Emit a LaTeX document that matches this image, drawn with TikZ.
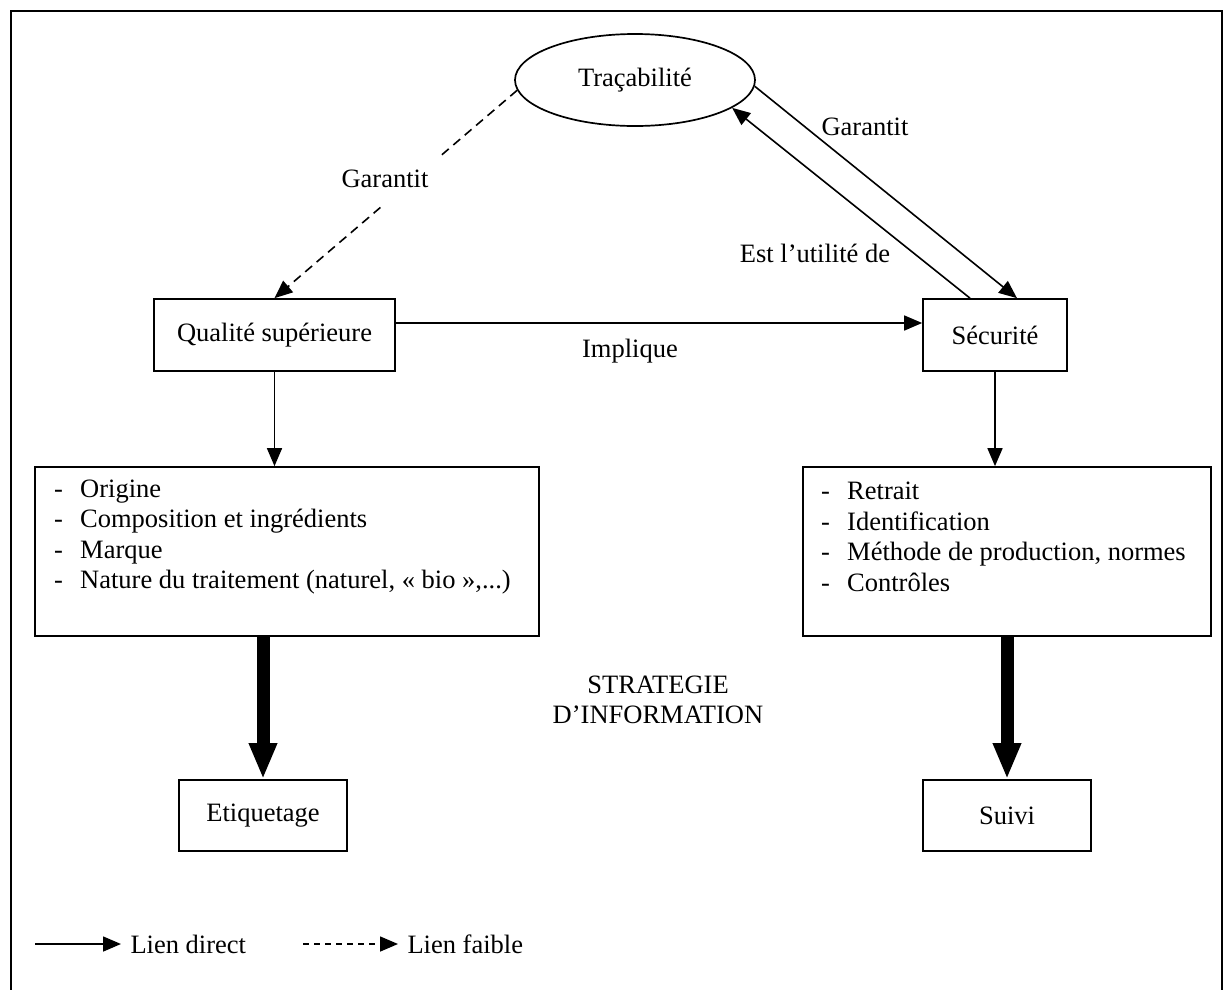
\documentclass[tikz,border=0pt]{standalone}
\usepackage{fontspec}
\setmainfont{Liberation Serif}
\usetikzlibrary{arrows.meta,shapes.geometric}
\begin{document}
\begin{tikzpicture}[x=1pt,y=-1pt,
  font=\fontsize{26.5}{30.5}\selectfont,
  box/.style={draw, line width=1.7pt, inner sep=0pt},
  arr/.style={line width=1.6pt, -{Triangle[length=18pt,width=15pt]}},
  weak/.style={arr, dash pattern=on 9pt off 6pt},
  legweak/.style={arr, dash pattern=on 6pt off 5pt},
  bigarr/.style={line width=13pt, -{Triangle[length=36pt,width=26pt]}},
  lbl/.style={fill=white, inner sep=2pt},
  itemlist/.style={anchor=west, align=left, inner sep=0pt}]
\useasboundingbox (0,0) rectangle (1224,989);
\draw[line width=1.7pt] (11,1000) -- (11,11) -- (1222,11) -- (1222,1000);

% nodes
\node[box, shape=ellipse, minimum width=240pt, minimum height=92pt] (traca) at (635,80) {Traçabilité};
\node[box, minimum width=241pt, minimum height=72pt] (qual) at (274.5,335) {Qualité supérieure};
\node[box, minimum width=144pt, minimum height=72pt] (secu) at (995,335) {Sécurité};
\node[box, minimum width=504pt, minimum height=169pt] (listL) at (287,551.5) {};
\node[box, minimum width=408pt, minimum height=169pt] (listR) at (1007,551.5) {};
\node[box, minimum width=168pt, minimum height=71pt] (etiq) at (263,815.5) {Etiquetage};
\node[box, minimum width=168pt, minimum height=71pt] (suivi) at (1007,815.5) {Suivi};

\node[itemlist] (txtL) at (54,537) {\makebox[26pt][l]{-}Origine\\
\makebox[26pt][l]{-}Composition et ingrédients\\
\makebox[26pt][l]{-}Marque\\
\makebox[26pt][l]{-}Nature du traitement (naturel, « bio »,...)};
\node[itemlist] (txtR) at (821,537) {\makebox[26pt][l]{-}Retrait\\
\makebox[26pt][l]{-}Identification\\
\makebox[26pt][l]{-}Méthode de production, normes\\
\makebox[26pt][l]{-}Contrôles};

\node[align=center] (strat) at (658,700) {STRATEGIE\\D’INFORMATION};

% connectors
\draw[weak] (traca.185) -- (qual.north);
\draw[arr] (traca.-3) -- ([xshift=22pt]secu.north);
\draw[arr] ([xshift=-25pt]secu.north) -- (traca.-16);
\draw[arr] ([yshift=12pt]qual.east) -- ([yshift=12pt]secu.west);
\draw[arr] (qual.south) -- (qual.south |- listL.north);
\draw[arr] (secu.south) -- (secu.south |- listR.north);
\draw[bigarr] (etiq.north |- listL.south) -- (etiq.north);
\draw[bigarr] (suivi.north |- listR.south) -- (suivi.north);

% labels
\node[lbl, minimum width=110pt, minimum height=52pt] (g1) at (385,179) {Garantit};
\node[lbl] (g2) at (865,127) {Garantit};
\node[lbl] (eu) at (815,253) {Est l’utilité de};
\node (impl) at (630,351) {Implique};

% legend
\coordinate (ld) at (35,944);
\coordinate (lf) at (303,944);
\node[anchor=west] (tdirect) at (127,944) {Lien direct};
\node[anchor=west] (tfaible) at (404,944) {Lien faible};
\draw[arr, shorten >=6pt] (ld) -- (tdirect.west);
\draw[legweak, shorten >=6pt] (lf) -- (tfaible.west);
\end{tikzpicture}
\end{document}
